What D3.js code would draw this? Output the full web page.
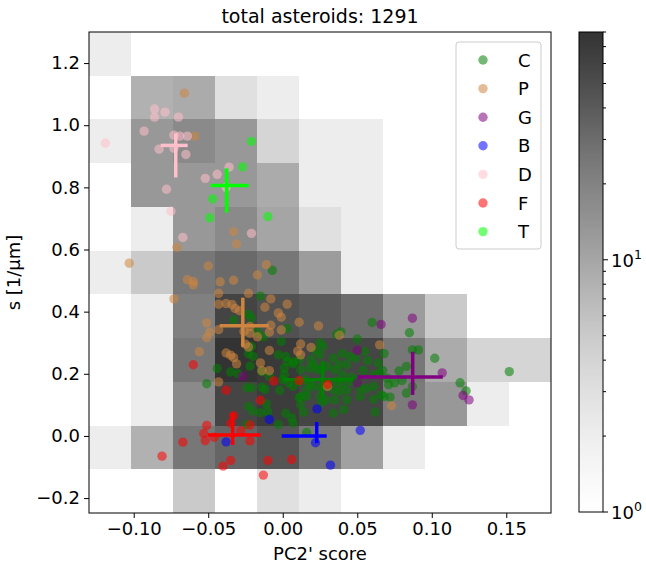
<!DOCTYPE html>
<html>
<head>
<meta charset="utf-8">
<script src="https://cdn.jsdelivr.net/npm/d3@7"></script>
<style>
  body { margin: 0; background: #fff; }
  text { font-family: "DejaVu Sans", sans-serif; }
</style>
</head>
<body>
<div id="chart"></div>
<script>
// --- data ---
const titleText = 'total asteroids: 1291';
const xRange = [-0.13, 0.18];   // histogram / axis range, PC2' score
const yRange = [-0.248, 1.30];  // histogram / axis range, s [1/um]
const nBins = 11;

// 2d histogram counts, rows from top (high s) to bottom (low s), cols left -> right
const binCounts = [
  [2, 0, 0, 0, 0, 0, 0, 0, 0, 0, 0],
  [0, 8, 9, 3, 2, 0, 0, 0, 0, 0, 0],
  [2, 13, 17, 13, 4, 2, 2, 0, 0, 0, 0],
  [0, 13, 13, 13, 9, 2, 2, 0, 0, 0, 0],
  [0, 2, 13, 17, 10, 3, 2, 0, 0, 0, 0],
  [2, 5, 25, 31, 25, 12, 2, 0, 0, 0, 0],
  [0, 2, 21, 59, 47, 40, 30, 12, 5, 0, 0],
  [0, 2, 25, 80, 72, 58, 58, 25, 9, 4, 4],
  [0, 2, 17, 58, 68, 58, 58, 23, 13, 2, 0],
  [2, 8, 25, 34, 44, 25, 11, 2, 0, 0, 0],
  [0, 0, 5, 0, 3, 2, 0, 0, 0, 0, 0]
];

const classNames = ['C', 'P', 'G', 'B', 'D', 'F', 'T'];
const classColors = ['green', 'peru', 'purple', 'blue', 'pink', 'red', 'lime'];

const pointsC = [
  [-0.007, 0.533], [-0.015, 0.450], [-0.023, 0.392], [-0.021, 0.379], [-0.033, 0.373], [0.003, 0.346],
  [-0.017, 0.335], [-0.013, 0.319], [-0.001, 0.304], [-0.021, 0.288], [-0.020, 0.256], [-0.023, 0.265],
  [-0.003, 0.261], [0.007, 0.238], [-0.044, 0.217], [-0.051, 0.168], [-0.035, 0.206], [-0.030, 0.200],
  [-0.022, 0.225], [-0.014, 0.207], [-0.009, 0.191], [0.001, 0.197], [0.001, 0.219], [0.002, 0.256],
  [0.003, 0.240], [-0.024, 0.155], [-0.021, 0.155], [-0.014, 0.157], [-0.012, 0.150], [-0.002, 0.147],
  [-0.023, 0.095], [-0.011, 0.103], [-0.020, 0.080], [-0.015, 0.075], [-0.010, 0.077], [-0.003, 0.037],
  [0.002, 0.073], [0.006, 0.058], [0.007, 0.041], [-0.024, 0.037], [0.012, 0.126], [0.012, 0.100],
  [0.014, 0.076], [0.016, 0.011], [0.026, 0.108], [0.041, 0.085], [0.060, 0.365], [0.039, 0.335],
  [0.036, 0.327], [0.050, 0.312], [0.025, 0.300], [0.027, 0.288], [0.022, 0.274], [0.025, 0.261],
  [0.040, 0.265], [0.045, 0.256], [0.049, 0.250], [0.034, 0.251], [0.011, 0.245], [0.019, 0.245],
  [0.038, 0.229], [0.043, 0.229], [0.018, 0.218], [0.023, 0.213], [0.026, 0.215], [0.054, 0.211],
  [0.061, 0.197], [0.036, 0.175], [0.040, 0.168], [0.046, 0.175], [0.020, 0.159], [0.025, 0.156],
  [0.030, 0.163], [0.016, 0.148], [0.034, 0.148], [0.038, 0.143], [0.043, 0.147], [0.052, 0.154],
  [0.056, 0.152], [0.061, 0.159], [0.011, 0.123], [0.016, 0.127], [0.025, 0.127], [0.029, 0.116],
  [0.035, 0.116], [0.043, 0.116], [0.052, 0.127], [0.061, 0.118], [0.062, 0.077], [0.055, 0.272],
  [0.068, 0.265], [0.057, 0.242], [0.064, 0.235], [0.007, 0.232], [0.012, 0.213], [0.021, 0.229],
  [0.030, 0.224], [0.035, 0.213], [0.040, 0.197], [0.046, 0.189], [0.049, 0.181], [0.065, 0.202],
  [0.070, 0.186], [0.000, 0.181], [0.004, 0.170], [0.007, 0.159], [0.015, 0.181], [0.018, 0.170],
  [0.085, 0.332], [0.087, 0.277], [0.091, 0.277], [0.102, 0.250], [0.078, 0.209], [0.083, 0.224],
  [0.071, 0.165], [0.075, 0.171], [0.080, 0.178], [0.087, 0.159], [0.083, 0.138], [0.066, 0.132],
  [0.068, 0.127], [0.072, 0.125], [0.119, 0.171], [0.123, 0.145], [0.152, 0.207], [0.067, 0.211],
  [0.034, 0.073], [0.011, 0.175]
];
const pointsP = [
  [-0.066, 1.103], [-0.059, 0.965], [-0.033, 0.657], [-0.031, 0.618], [-0.071, 0.607], [-0.103, 0.556],
  [-0.050, 0.547], [-0.011, 0.551], [-0.017, 0.518], [-0.064, 0.503], [-0.060, 0.497], [-0.060, 0.486],
  [-0.042, 0.496], [-0.033, 0.501], [-0.073, 0.441], [-0.043, 0.459], [-0.023, 0.459], [-0.008, 0.441],
  [-0.043, 0.424], [-0.038, 0.426], [-0.034, 0.423], [-0.032, 0.410], [-0.029, 0.403], [-0.012, 0.414],
  [0.003, 0.424], [-0.003, 0.396], [-0.001, 0.382], [0.011, 0.366], [0.024, 0.354], [-0.051, 0.364],
  [-0.043, 0.342], [-0.049, 0.334], [-0.051, 0.316], [-0.022, 0.352], [-0.022, 0.331], [-0.017, 0.319],
  [-0.009, 0.334], [-0.008, 0.356], [-0.001, 0.341], [-0.026, 0.336], [-0.025, 0.295], [-0.023, 0.286],
  [-0.056, 0.271], [-0.038, 0.267], [-0.035, 0.260], [-0.033, 0.252], [-0.031, 0.232], [-0.009, 0.275],
  [-0.015, 0.235], [-0.014, 0.210], [-0.009, 0.210], [-0.043, 0.174], [0.010, 0.273], [0.012, 0.261],
  [0.019, 0.285], [0.012, 0.296], [0.038, 0.324], [0.065, 0.293], [0.073, 0.097], [0.030, 0.159]
];
const pointsG = [
  [0.087, 0.379], [0.066, 0.359], [0.050, 0.275], [0.107, 0.203], [0.121, 0.130],
  [0.125, 0.116], [0.087, 0.100], [0.050, 0.171], [-0.027, 0.192]
];
const pointsB = [
  [-0.009, 0.053], [0.023, 0.087], [-0.038, -0.019], [0.022, -0.022], [0.032, -0.094], [0.052, 0.018]
];
const pointsD = [
  [-0.086, 1.052], [-0.079, 1.042], [-0.086, 1.026], [-0.070, 1.026], [-0.093, 0.981], [-0.119, 0.942],
  [-0.073, 0.968], [-0.069, 0.965], [-0.064, 0.965], [-0.083, 0.923], [-0.065, 0.906], [-0.073, 0.926],
  [-0.052, 0.829], [-0.044, 0.842], [-0.036, 0.865], [-0.038, 0.800], [-0.078, 0.794], [-0.075, 0.723],
  [-0.067, 0.639], [-0.021, 0.652]
];
const pointsF = [
  [-0.060, 0.229], [-0.038, 0.147], [-0.015, 0.115], [-0.006, 0.177], [0.011, 0.178], [0.030, 0.166],
  [-0.033, 0.065], [-0.051, 0.034], [-0.035, 0.041], [-0.022, 0.035], [-0.053, 0.008], [-0.028, 0.017],
  [-0.046, -0.004], [-0.052, -0.015], [-0.022, -0.016], [-0.067, -0.020], [-0.081, -0.065], [-0.035, -0.079],
  [-0.040, -0.097], [-0.010, -0.079], [0.006, -0.076], [-0.013, -0.126]
];
const pointsT = [
  [-0.021, 0.948], [-0.027, 0.866], [-0.047, 0.763], [-0.049, 0.702], [-0.010, 0.706]
];
const classPoints = [pointsC, pointsP, pointsG, pointsB, pointsD, pointsF, pointsT];

// class centre and error extents: [x, y], [xLow, xHigh], [yLow, yHigh]
const classCentre = [[0.0268, 0.181], [-0.0268, 0.355], [0.0872, 0.190], [0.0228, 0.000],
  [-0.0718, 0.935], [-0.0336, 0.003], [-0.0376, 0.806]];
const classXErr = [[0.000, 0.0497], [-0.0423, -0.0094], [0.0503, 0.1074], [-0.0007, 0.0295],
  [-0.0819, -0.0638], [-0.0503, -0.0148], [-0.0483, -0.0228]];
const classYErr = [[0.126, 0.242], [0.287, 0.445], [0.132, 0.271], [-0.023, 0.045],
  [0.832, 0.974], [-0.029, 0.074], [0.719, 0.861]];

const xTicks = [-0.10, -0.05, 0.00, 0.05, 0.10, 0.15];
const yTicks = [-0.2, 0.0, 0.2, 0.4, 0.6, 0.8, 1.0, 1.2];

// --- chart ---
const width = 646, height = 571;
const plot = {left: 89, top: 32, right: 551, bottom: 513};
const fontSize = 18;

const svg = d3.select('#chart').append('svg')
  .attr('width', width)
  .attr('height', height);

svg.append('rect').attr('width', width).attr('height', height).attr('fill', '#fff');

const x = d3.scaleLinear().domain(xRange).range([plot.left, plot.right]);
const y = d3.scaleLinear().domain(yRange).range([plot.bottom, plot.top]);

const vmax = d3.max(binCounts.flat());
const colorPos = d3.scaleLog().domain([1, vmax]).range([0, 1]).clamp(true);
const cellColor = c => d3.interpolateGreys(colorPos(c));
const cellAlpha = 0.8;

// histogram cells
const xStep = (xRange[1] - xRange[0]) / nBins;
const yStep = (yRange[1] - yRange[0]) / nBins;
const cells = [];
binCounts.forEach((row, r) => {
  row.forEach((c, col) => {
    if (c > 0) {
      const y1 = yRange[1] - r * yStep;
      cells.push({x0: xRange[0] + col * xStep, x1: xRange[0] + (col + 1) * xStep, y0: y1 - yStep, y1: y1, c: c});
    }
  });
});

svg.append('g').selectAll('rect')
  .data(cells)
  .join('rect')
  .attr('x', d => x(d.x0))
  .attr('y', d => y(d.y1))
  .attr('width', d => x(d.x1) - x(d.x0))
  .attr('height', d => y(d.y0) - y(d.y1))
  .attr('fill', d => cellColor(d.c))
  .attr('fill-opacity', cellAlpha)
  .attr('shape-rendering', 'crispEdges');

// scatter + class crosses, one class after the other
const marks = svg.append('g');
classNames.forEach((name, i) => {
  const g = marks.append('g');
  g.selectAll('circle')
    .data(classPoints[i])
    .join('circle')
    .attr('cx', d => x(d[0]))
    .attr('cy', d => y(d[1]))
    .attr('r', 4.7)
    .attr('fill', classColors[i])
    .attr('fill-opacity', 0.55);

  const [cx, cy] = classCentre[i];
  g.append('line')
    .attr('x1', x(classXErr[i][0])).attr('x2', x(classXErr[i][1]))
    .attr('y1', y(cy)).attr('y2', y(cy))
    .attr('stroke', classColors[i]).attr('stroke-width', 3.5);
  g.append('line')
    .attr('x1', x(cx)).attr('x2', x(cx))
    .attr('y1', y(classYErr[i][0])).attr('y2', y(classYErr[i][1]))
    .attr('stroke', classColors[i]).attr('stroke-width', 3.5);
});

// axes
const xAxis = svg.append('g')
  .attr('transform', `translate(0,${plot.bottom})`)
  .call(d3.axisBottom(x).tickValues(xTicks).tickFormat(d3.format('.2f')).tickSize(5).tickPadding(4));
const yAxis = svg.append('g')
  .attr('transform', `translate(${plot.left},0)`)
  .call(d3.axisLeft(y).tickValues(yTicks).tickFormat(d3.format('.1f')).tickSize(5).tickPadding(4));
[xAxis, yAxis].forEach(a => {
  a.select('.domain').remove();
  a.selectAll('text').attr('font-size', fontSize).attr('font-family', '"DejaVu Sans", sans-serif').attr('fill', '#000');
  a.selectAll('line').attr('stroke', '#000');
});

svg.append('rect')
  .attr('x', plot.left).attr('y', plot.top)
  .attr('width', plot.right - plot.left).attr('height', plot.bottom - plot.top)
  .attr('fill', 'none').attr('stroke', '#000').attr('stroke-width', 1);

// labels
svg.append('text')
  .attr('x', (plot.left + plot.right) / 2).attr('y', 23)
  .attr('text-anchor', 'middle').attr('font-size', 19)
  .text(titleText);
svg.append('text')
  .attr('x', (plot.left + plot.right) / 2).attr('y', 560)
  .attr('text-anchor', 'middle').attr('font-size', fontSize)
  .text("PC2' score");
svg.append('text')
  .attr('transform', `translate(20,${(plot.top + plot.bottom) / 2}) rotate(-90)`)
  .attr('text-anchor', 'middle').attr('font-size', fontSize)
  .text('s [1/μm]');

// legend
const legend = svg.append('g');
legend.append('rect')
  .attr('x', 456).attr('y', 42).attr('width', 85).attr('height', 207)
  .attr('rx', 3).attr('fill', '#fff').attr('fill-opacity', 0.8)
  .attr('stroke', '#ccc').attr('stroke-width', 1);
classNames.forEach((name, i) => {
  const ly = 60 + i * 28.6;
  legend.append('circle')
    .attr('cx', 483).attr('cy', ly).attr('r', 4.7)
    .attr('fill', classColors[i]).attr('fill-opacity', 0.55);
  legend.append('text')
    .attr('x', 518).attr('y', ly + 6.5)
    .attr('font-size', fontSize)
    .text(name);
});

// colorbar
const cb = {x: 579, w: 24, top: 32, bottom: 512};
const cbScale = d3.scaleLog().domain([1, vmax]).range([cb.bottom, cb.top]);
const cbSteps = d3.range(cb.top, cb.bottom, 1);
const cbG = svg.append('g');
cbG.selectAll('rect')
  .data(cbSteps)
  .join('rect')
  .attr('x', cb.x).attr('y', d => d)
  .attr('width', cb.w).attr('height', 1.2)
  .attr('fill', d => cellColor(cbScale.invert(d + 0.5)))
  .attr('fill-opacity', cellAlpha)
  .attr('shape-rendering', 'crispEdges');
cbG.append('rect')
  .attr('x', cb.x).attr('y', cb.top).attr('width', cb.w).attr('height', cb.bottom - cb.top)
  .attr('fill', 'none').attr('stroke', '#000').attr('stroke-width', 1);

const minorTicks = [2, 3, 4, 5, 6, 7, 8, 9, 20, 30, 40, 50, 60, 70, 80].filter(v => v <= vmax);
cbG.selectAll('line.minor')
  .data(minorTicks)
  .join('line')
  .attr('class', 'minor')
  .attr('x1', cb.x + cb.w).attr('x2', cb.x + cb.w + 3)
  .attr('y1', d => cbScale(d)).attr('y2', d => cbScale(d))
  .attr('stroke', '#000');
const majorTicks = [1, 10];
majorTicks.forEach(v => {
  const ty = cbScale(v);
  cbG.append('line')
    .attr('x1', cb.x + cb.w).attr('x2', cb.x + cb.w + 5)
    .attr('y1', ty).attr('y2', ty).attr('stroke', '#000');
  const t = cbG.append('text')
    .attr('x', cb.x + cb.w + 8).attr('y', ty + 7)
    .attr('font-size', fontSize)
    .text('10');
  t.append('tspan')
    .attr('dy', -8).attr('font-size', 12.5)
    .text(Math.round(Math.log10(v)));
});
</script>
</body>
</html>
